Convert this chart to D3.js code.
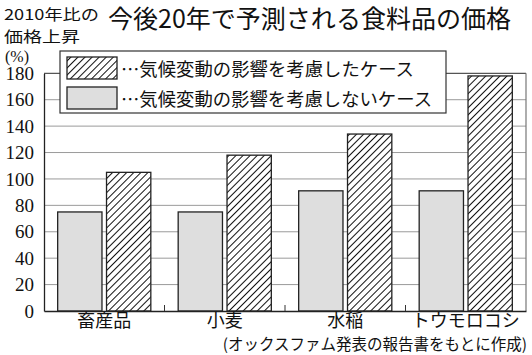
<!DOCTYPE html>
<html><head><meta charset="utf-8">
<script src="https://cdn.jsdelivr.net/npm/d3@7"></script>
<style>body{margin:0;background:#fff}svg{display:block}
.serif{font-family:"Liberation Serif", "DejaVu Serif", serif;}
</style>
</head><body>
<script>
const categories = ["畜産品", "小麦", "水稲", "トウモロコシ"];
const seriesKeys = ["without", "with"];
const withoutClimate = [75, 75, 91, 91];
const withClimate = [105, 118, 134, 178];
const yTicks = [0, 20, 40, 60, 80, 100, 120, 140, 160, 180];
const legendLabels = ["…気候変動の影響を考慮したケース", "…気候変動の影響を考慮しないケース"];
const title = "今後20年で予測される食料品の価格";
const yTitle1 = "2010年比の";
const yTitle2 = "価格上昇";
const unit = "(%)";
const source = "(オックスファム発表の報告書をもとに作成)";

const W = 532, H = 355;
const svg = d3.select("body").append("svg").attr("width", W).attr("height", H);
const defs = svg.append("defs");
const pat = defs.append("pattern").attr("id", "hatch").attr("patternUnits", "userSpaceOnUse")
  .attr("width", 5).attr("height", 5).attr("patternTransform", "rotate(45)");
pat.append("rect").attr("width", 5).attr("height", 5).attr("fill", "#fff");
pat.append("line").attr("x1", 0).attr("y1", 0).attr("x2", 0).attr("y2", 5)
  .attr("stroke", "#111").attr("stroke-width", 2);

const pL = 44, pR = 526, pT = 73.3, pB = 311;
const x = d3.scaleBand().domain(categories).range([pL, pR]).paddingInner(0).paddingOuter(0);
const xs = d3.scaleBand().domain(seriesKeys).range([0, x.bandwidth()]).paddingInner(0.093).paddingOuter(0.28);
const y = d3.scaleLinear().domain([0, 180]).range([pB, pT]);

const cjk = "'Noto Sans CJK JP', 'Noto Sans', sans-serif";

// gridlines
svg.append("g").selectAll("line").data(yTicks.filter(d => d > 0 && d < 180)).join("line")
  .attr("x1", pL).attr("x2", pR).attr("y1", d => y(d)).attr("y2", d => y(d))
  .attr("stroke", "#9a9a9a").attr("stroke-width", 1);
// frame top and right
svg.append("line").attr("x1", pL).attr("x2", pR).attr("y1", y(180)).attr("y2", y(180))
  .attr("stroke", "#555").attr("stroke-width", 1.2);
svg.append("line").attr("x1", pR).attr("x2", pR).attr("y1", y(180)).attr("y2", y(0))
  .attr("stroke", "#777").attr("stroke-width", 1.2);

// y axis
const yAxis = svg.append("g").attr("transform", `translate(${pL},0)`)
  .call(d3.axisLeft(y).tickValues(yTicks).tickSize(0).tickPadding(10));
yAxis.attr("font-family", null).attr("font-size", null);
yAxis.select(".domain").attr("stroke", "#222").attr("stroke-width", 1.3);
yAxis.selectAll("text").attr("class", "serif").style("font-size", "19px").attr("fill", "#111");

// bars
const rows = categories.map((c, i) => ({c, without: withoutClimate[i], with: withClimate[i]}));
const g = svg.append("g").selectAll("g").data(rows).join("g").attr("transform", d => `translate(${x(d.c)},0)`);
g.selectAll("rect").data(d => seriesKeys.map(k => ({k, v: d[k]}))).join("rect")
  .attr("x", d => xs(d.k)).attr("width", xs.bandwidth())
  .attr("y", d => y(d.v)).attr("height", d => y(0) - y(d.v))
  .attr("fill", d => d.k === "with" ? "url(#hatch)" : "#dedede")
  .attr("stroke", "#222").attr("stroke-width", 1.3);

// x axis
const xAxis = svg.append("g").attr("transform", `translate(0,${pB})`)
  .call(d3.axisBottom(x).tickSize(0).tickPadding(3));
xAxis.attr("font-family", null).attr("font-size", null);
xAxis.select(".domain").attr("stroke", "#222").attr("stroke-width", 1.3);
xAxis.selectAll("text").style("font-family", cjk).style("font-size", "18px").attr("fill", "#111");
// boundary ticks (inside, upward)
svg.append("g").selectAll("line").data(categories.slice(1)).join("line")
  .attr("x1", d => x(d)).attr("x2", d => x(d)).attr("y1", pB).attr("y2", pB - 6)
  .attr("stroke", "#333").attr("stroke-width", 1);

// legend
const lg = svg.append("g");
lg.append("rect").attr("x", 60).attr("y", 51).attr("width", 386).attr("height", 62)
  .attr("fill", "#fff").attr("stroke", "#333").attr("stroke-width", 1.2);
const legendFills = ["url(#hatch)", "#dedede"];
legendLabels.forEach((t, i) => {
  const yy = 57 + i * 30;
  lg.append("rect").attr("x", 67).attr("y", yy).attr("width", 50).attr("height", 22)
    .attr("fill", legendFills[i]).attr("stroke", "#222").attr("stroke-width", 1.3);
  lg.append("text").attr("x", 121).attr("y", yy + 11).attr("dominant-baseline", "central")
    .style("font-family", cjk).style("font-size", "18px").attr("fill", "#111")
    .attr("textLength", i === 0 ? 293 : 311).attr("lengthAdjust", "spacingAndGlyphs").text(t);
});

// titles
svg.append("text").attr("x", 108).attr("y", 17).attr("dominant-baseline", "central")
  .style("font-family", cjk).style("font-size", "25px").attr("fill", "#111")
  .attr("textLength", 403).attr("lengthAdjust", "spacingAndGlyphs").text(title);
svg.append("text").attr("x", 4).attr("y", 13).attr("dominant-baseline", "central")
  .style("font-family", cjk).style("font-size", "15px").attr("fill", "#111")
  .attr("textLength", 95).attr("lengthAdjust", "spacingAndGlyphs").text(yTitle1);
svg.append("text").attr("x", 4).attr("y", 35).attr("dominant-baseline", "central")
  .style("font-family", cjk).style("font-size", "15px").attr("fill", "#111")
  .attr("textLength", 76).attr("lengthAdjust", "spacingAndGlyphs").text(yTitle2);
svg.append("text").attr("x", 5).attr("y", 56).attr("dominant-baseline", "central")
  .attr("class", "serif").style("font-size", "16px").attr("fill", "#111").text(unit);
svg.append("text").attr("x", 527).attr("y", 343).attr("dominant-baseline", "central")
  .attr("text-anchor", "end")
  .style("font-family", cjk).style("font-size", "15.5px").attr("fill", "#111")
  .text(source);
</script>
</body></html>
